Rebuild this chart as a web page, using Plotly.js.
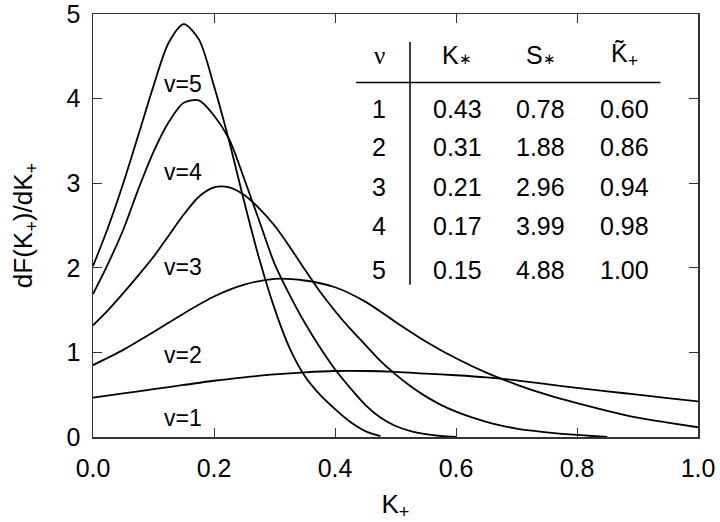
<!DOCTYPE html>
<html>
<head>
<meta charset="utf-8">
<script src="https://cdn.plot.ly/plotly-3.0.1.min.js"></script>
<style>
  html, body { margin: 0; padding: 0; background: #fff; }
  #chart { width: 720px; height: 522px; }
</style>
</head>
<body>
<div id="chart"></div>
<script>
"use strict";

// curves, one x/y pair per nu
const x1 = [0, 0.05, 0.1, 0.15, 0.2, 0.25, 0.3, 0.35, 0.4, 0.45, 0.5, 0.55, 0.6, 0.65, 0.7, 0.75, 0.8, 0.85, 0.9, 0.95, 1.0];
const y1 = [0.465, 0.515, 0.565, 0.615, 0.665, 0.705, 0.74, 0.765, 0.78, 0.78, 0.77, 0.75, 0.73, 0.705, 0.67, 0.625, 0.58, 0.54, 0.50, 0.46, 0.42];

const x2 = [0, 0.05, 0.1, 0.15, 0.2, 0.25, 0.3, 0.35, 0.4, 0.45, 0.5, 0.55, 0.6, 0.65, 0.7, 0.75, 0.8, 0.85, 0.9, 0.95, 1.0];
const y2 = [0.85, 1.03, 1.24, 1.46, 1.66, 1.80, 1.87, 1.85, 1.77, 1.60, 1.36, 1.13, 0.93, 0.76, 0.62, 0.50, 0.40, 0.31, 0.23, 0.17, 0.115];

const x3 = [0, 0.025, 0.05, 0.075, 0.1, 0.125, 0.15, 0.175, 0.2, 0.225, 0.25, 0.275, 0.3, 0.325, 0.35, 0.375, 0.4, 0.425,
  0.45, 0.475, 0.5, 0.525, 0.55, 0.575, 0.6, 0.625, 0.65, 0.675, 0.7, 0.725, 0.75, 0.775, 0.8, 0.825, 0.85];
const y3 = [1.32, 1.50, 1.70, 1.91, 2.13, 2.38, 2.63, 2.84, 2.95, 2.95, 2.86, 2.70, 2.50, 2.25, 1.98, 1.72, 1.49, 1.28,
  1.09, 0.90, 0.74, 0.60, 0.48, 0.38, 0.30, 0.235, 0.18, 0.135, 0.10, 0.075, 0.055, 0.038, 0.025, 0.012, 0.0];

const x4 = [0, 0.025, 0.05, 0.075, 0.1, 0.125, 0.15, 0.175, 0.2, 0.225, 0.25, 0.275, 0.3, 0.325, 0.35, 0.375, 0.4, 0.425,
  0.45, 0.475, 0.5, 0.525, 0.55, 0.575, 0.6];
const y4 = [1.69, 2.05, 2.45, 2.93, 3.37, 3.72, 3.95, 3.98, 3.80, 3.52, 3.05, 2.55, 2.05, 1.68, 1.35, 1.06, 0.80, 0.58,
  0.38, 0.23, 0.13, 0.07, 0.035, 0.012, 0.0];

const x5 = [0, 0.025, 0.05, 0.075, 0.1, 0.125, 0.15, 0.175, 0.2, 0.225, 0.25, 0.275, 0.3, 0.325, 0.35, 0.375, 0.4, 0.425, 0.45, 0.475];
const y5 = [2.02, 2.48, 3.0, 3.57, 4.15, 4.66, 4.88, 4.70, 4.15, 3.5, 2.78, 2.1, 1.52, 1.05, 0.72, 0.50, 0.33, 0.18, 0.07, 0.01];

const curveX = [x1, x2, x3, x4, x5];
const curveY = [y1, y2, y3, y4, y5];

// curve labels
const curveLabels = ["v=1", "v=2", "v=3", "v=4", "v=5"];
const labelY = [0.23, 0.97, 2.01, 3.13, 4.17];
const labelX = 0.149;

// table in the corner
const nu = ["1", "2", "3", "4", "5"];
const kStar = ["0.43", "0.31", "0.21", "0.17", "0.15"];
const sStar = ["0.78", "1.88", "2.96", "3.99", "4.88"];
const kTilde = ["0.60", "0.86", "0.94", "0.98", "1.00"];
const star = "<span style='font-size:15px'>\u2217</span>";
const tableHeads = ["\u03bd", "K" + star, "S" + star, "K\u0303<sub>+</sub>"];

const colX = [0.473, 0.602, 0.740, 0.878];
const headY = 4.515;
const rowY = [3.877, 3.43, 2.96, 2.494, 1.974];

const FONT = "Liberation Sans, Arial, sans-serif";

const traces = curveX.map((xs, i) => ({
  x: xs,
  y: curveY[i],
  type: "scatter",
  mode: "lines",
  line: {color: "#000", width: 1.8, shape: "spline", smoothing: 0.8},
  hoverinfo: "skip",
  showlegend: false,
}));

const annotations = [];
curveLabels.forEach((t, i) => {
  annotations.push({x: labelX, y: labelY[i], text: t, showarrow: false,
    font: {family: FONT, size: 23, color: "#000"}});
});

tableHeads.forEach((t, c) => {
  annotations.push({x: colX[c], y: headY, text: t, showarrow: false,
    font: {family: c === 0 ? "Liberation Serif, serif" : FONT, size: 25, color: "#000"}});
});

const columns = [nu, kStar, sStar, kTilde];
columns.forEach((col, c) => {
  col.forEach((t, r) => {
    annotations.push({x: colX[c], y: rowY[r], text: t, showarrow: false,
      font: {family: FONT, size: 25, color: "#000"}});
  });
});

const layout = {
  width: 720,
  height: 522,
  margin: {l: 93, r: 22, t: 14, b: 85},
  paper_bgcolor: "#fff",
  plot_bgcolor: "#fff",
  showlegend: false,
  font: {family: FONT, color: "#000"},
  xaxis: {
    range: [0, 1],
    dtick: 0.2,
    tickformat: ".1f",
    ticks: "inside",
    ticklen: 9,
    tickcolor: "#333",
    showline: true,
    linecolor: "#333",
    linewidth: 1.5,
    mirror: "ticks",
    showgrid: false,
    zeroline: false,
    ticklabelstandoff: 8,
    ticklabeloverflow: "allow",
    tickfont: {size: 25, family: FONT},
    title: {text: "K<sub>+</sub>", font: {size: 26, family: FONT}, standoff: 14},
  },
  yaxis: {
    range: [0, 5],
    dtick: 1,
    ticks: "inside",
    ticklen: 9,
    tickcolor: "#333",
    showline: true,
    linecolor: "#333",
    linewidth: 1.5,
    mirror: "ticks",
    showgrid: false,
    zeroline: false,
    ticklabelstandoff: 6,
    ticklabeloverflow: "allow",
    tickfont: {size: 25, family: FONT},
    title: {text: "dF(K<sub>+</sub>)/dK<sub>+</sub>", font: {size: 26, family: FONT}, standoff: 26},
  },
  annotations: annotations,
  shapes: [
    {type: "line", xref: "x", yref: "y", x0: 0.435, x1: 0.938, y0: 4.19, y1: 4.19,
      line: {color: "#000", width: 1.5}},
    {type: "line", xref: "x", yref: "y", x0: 0.524, x1: 0.524, y0: 4.67, y1: 1.80,
      line: {color: "#000", width: 1.5}},
  ],
};

Plotly.newPlot("chart", traces, layout, {displayModeBar: false, staticPlot: true});
</script>
</body>
</html>
